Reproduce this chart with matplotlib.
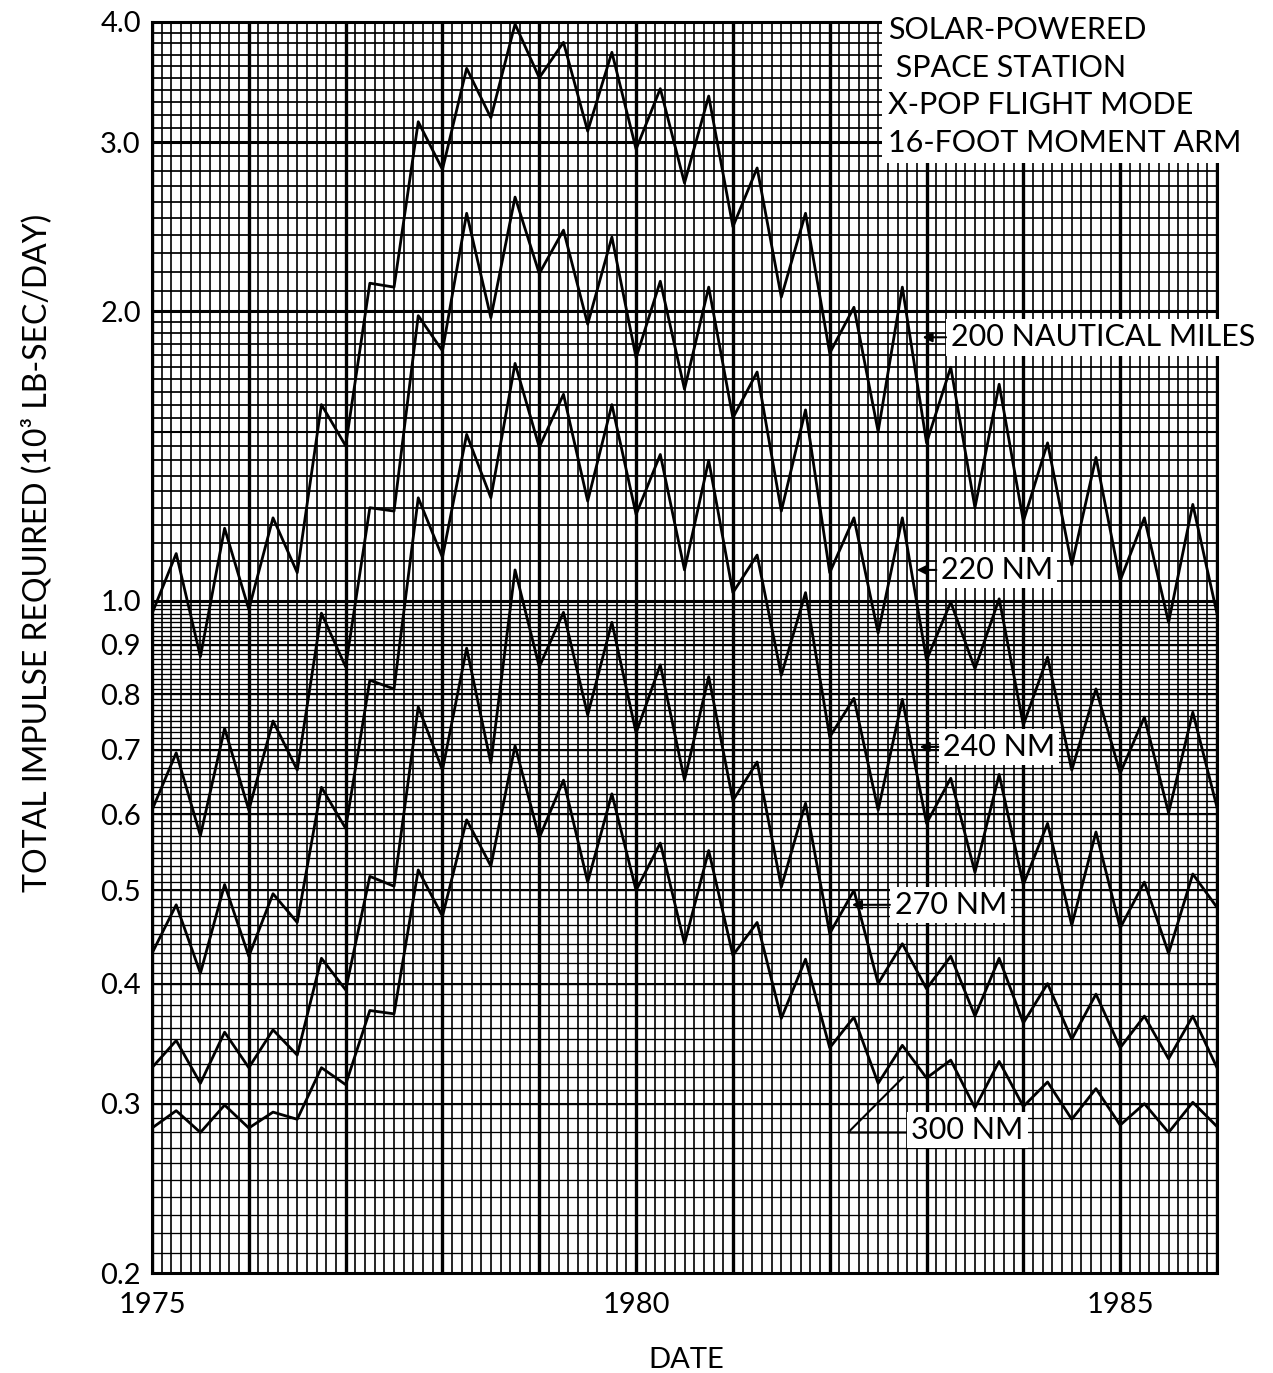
import numpy as np
import matplotlib.pyplot as plt
from matplotlib.patches import Rectangle

plt.rcParams['font.family'] = ['Lato', 'DejaVu Sans']

# quarterly points, 1975.0 .. 1986.0
dates = np.arange(1975, 1986.01, 0.25)

nm200 = [0.97, 1.12, 0.875, 1.19, 0.98, 1.22, 1.07, 1.60, 1.45, 2.14, 2.12,
         3.15, 2.81, 3.58, 3.18, 3.98, 3.50, 3.81, 3.08, 3.72, 2.95, 3.41,
         2.72, 3.35, 2.45, 2.82, 2.07, 2.53, 1.81, 2.02, 1.50, 2.12, 1.46,
         1.75, 1.25, 1.68, 1.21, 1.46, 1.09, 1.41, 1.05, 1.22, 0.95, 1.26,
         0.97]
nm220 = [0.606, 0.695, 0.57, 0.737, 0.606, 0.75, 0.667, 0.971, 0.854, 1.25,
         1.24, 1.98, 1.82, 2.53, 1.97, 2.63, 2.19, 2.43, 1.94, 2.39, 1.79,
         2.15, 1.66, 2.12, 1.55, 1.73, 1.24, 1.58, 1.07, 1.22, 0.926, 1.22,
         0.868, 0.997, 0.85, 1.005, 0.743, 0.874, 0.667, 0.81, 0.662, 0.757,
         0.602, 0.766, 0.61]
nm240 = [0.43, 0.483, 0.41, 0.507, 0.427, 0.496, 0.463, 0.64, 0.58, 0.827,
         0.81, 1.28, 1.11, 1.49, 1.28, 1.766, 1.445, 1.64, 1.27, 1.6, 1.23,
         1.42, 1.077, 1.40, 1.02, 1.116, 0.837, 1.02, 0.722, 0.792, 0.606,
         0.79, 0.587, 0.654, 0.522, 0.66, 0.507, 0.587, 0.46, 0.575, 0.457,
         0.51, 0.43, 0.52, 0.48]
nm270 = [0.327, 0.349, 0.315, 0.356, 0.327, 0.358, 0.337, 0.425, 0.394,
         0.517, 0.505, 0.776, 0.667, 0.893, 0.678, 1.077, 0.854, 0.973,
         0.761, 0.95, 0.729, 0.858, 0.651, 0.834, 0.62, 0.68, 0.504, 0.616,
         0.451, 0.50, 0.40, 0.44, 0.395, 0.427, 0.37, 0.425, 0.364, 0.40,
         0.35, 0.39, 0.343, 0.37, 0.334, 0.37, 0.327]
nm300 = [0.283, 0.295, 0.28, 0.299, 0.283, 0.294, 0.289, 0.327, 0.314,
         0.375, 0.372, 0.525, 0.47, 0.592, 0.53, 0.707, 0.567, 0.651, 0.51,
         0.63, 0.50, 0.56, 0.44, 0.55, 0.428, 0.463, 0.368, 0.424, 0.343,
         0.369, 0.315, 0.345, 0.319, 0.333, 0.297, 0.332, 0.298, 0.316,
         0.289, 0.311, 0.285, 0.300, 0.28, 0.301, 0.284]

ytick_vals = [0.2, 0.3, 0.4, 0.5, 0.6, 0.7, 0.8, 0.9, 1.0, 2.0, 3.0, 4.0]
ytick_labels = ['0.2', '0.3', '0.4', '0.5', '0.6', '0.7', '0.8', '0.9',
                '1.0', '2.0', '3.0', '4.0']
xtick_vals = [1975, 1980, 1985]

W, H = 1273, 1373
fig = plt.figure(figsize=(W / 100, H / 100), dpi=100)
ax = fig.add_axes([152 / W, 1 - 1273 / H, (1217 - 152) / W, (1273 - 22) / H])
ax.set_yscale('log')
ax.set_xlim(1975, 1986.0)
ax.set_ylim(0.2, 4.0)

"""
graph-paper grid
"""
gx = np.round(np.arange(1975, 1986.05, 0.1), 2)
years = gx[np.isclose(gx, np.round(gx))]
ax.vlines(gx, 0.2, 4.0, color='k', lw=1.2, zorder=1)
ax.vlines(years, 0.2, 4.0, color='k', lw=2.4, zorder=1)

low = np.round(np.arange(20, 101) / 100, 2)
mid = np.round(np.arange(20, 41) * 0.05, 2)
high = np.round(np.arange(20, 41) / 10, 2)
ax.hlines(low, 1975, 1986.0, color='k', lw=0.95, zorder=1)
ax.hlines(mid, 1975, 1986.0, color='k', lw=1.25, zorder=1)
ax.hlines(high, 1975, 1986.0, color='k', lw=1.25, zorder=1)
ax.hlines([0.3, 0.4, 0.5, 0.6, 0.7, 0.8, 0.9, 1.5], 1975, 1986.0,
          color='k', lw=1.5, zorder=1)
ax.hlines([1.0, 2.0, 3.0], 1975, 1986.0, color='k', lw=2.2, zorder=1)

for s in ax.spines.values():
    s.set_linewidth(2.2)

"""
curves
"""
for series in [nm200, nm220, nm240, nm270, nm300]:
    ax.plot(dates, series, color='k', lw=2.0, zorder=3)

ax.set_yticks(ytick_vals)
ax.set_yticklabels(ytick_labels)
ax.yaxis.set_minor_locator(plt.NullLocator())
ax.set_xticks(xtick_vals)
ax.set_xticklabels([str(v) for v in xtick_vals])
ax.tick_params(axis='both', length=0, labelsize=21)
ax.tick_params(axis='y', pad=8)
ax.tick_params(axis='x', pad=14)

ax.set_ylabel('TOTAL IMPULSE REQUIRED (10³ LB-SEC/DAY)', fontsize=23)
ax.yaxis.set_label_coords(-0.094, 0.576)
ax.set_xlabel('DATE', fontsize=21)
ax.xaxis.set_label_coords(0.502, -0.059)
ax.xaxis.label.set_va('top')

"""
title block and curve labels
"""
ax.add_patch(Rectangle((0.685, 0.887), 0.5, 0.2, transform=ax.transAxes,
                       facecolor='white', edgecolor='none', clip_on=False,
                       zorder=4))
title_lines = [('SOLAR-POWERED', 888, 30), (' SPACE STATION', 888, 68),
               ('X-POP FLIGHT MODE', 888, 105), ('16-FOOT MOMENT ARM', 888, 143)]
for txt, px, py in title_lines:
    fig.text(px / W, 1 - py / H, txt, fontsize=22, ha='left', va='center',
             zorder=6)

box = dict(facecolor='white', edgecolor='none', pad=3)
labels = [('200 NAUTICAL MILES', 1983.25, 1.88, 1982.93),
          ('220 NM', 1983.15, 1.077, 1982.87),
          ('240 NM', 1983.17, 0.705, 1982.9),
          ('270 NM', 1982.67, 0.483, 1982.2)]
for txt, tx, ty, hx in labels:
    ax.text(tx, ty, txt, fontsize=22, ha='left', va='center', bbox=box,
            zorder=6)
    ax.annotate('', xy=(hx, ty), xytext=(tx - 0.02, ty),
                arrowprops=dict(arrowstyle='-|>', color='k', lw=1.5,
                                mutation_scale=14), zorder=6)

ax.text(1982.84, 0.2817, '300 NM', fontsize=22, ha='left', va='center',
        bbox=box, zorder=6)
ax.plot([1982.8, 1982.19, 1982.76], [0.280, 0.280, 0.3197], color='k',
        lw=1.5, zorder=5)

fig.savefig('out.png', dpi=100)
